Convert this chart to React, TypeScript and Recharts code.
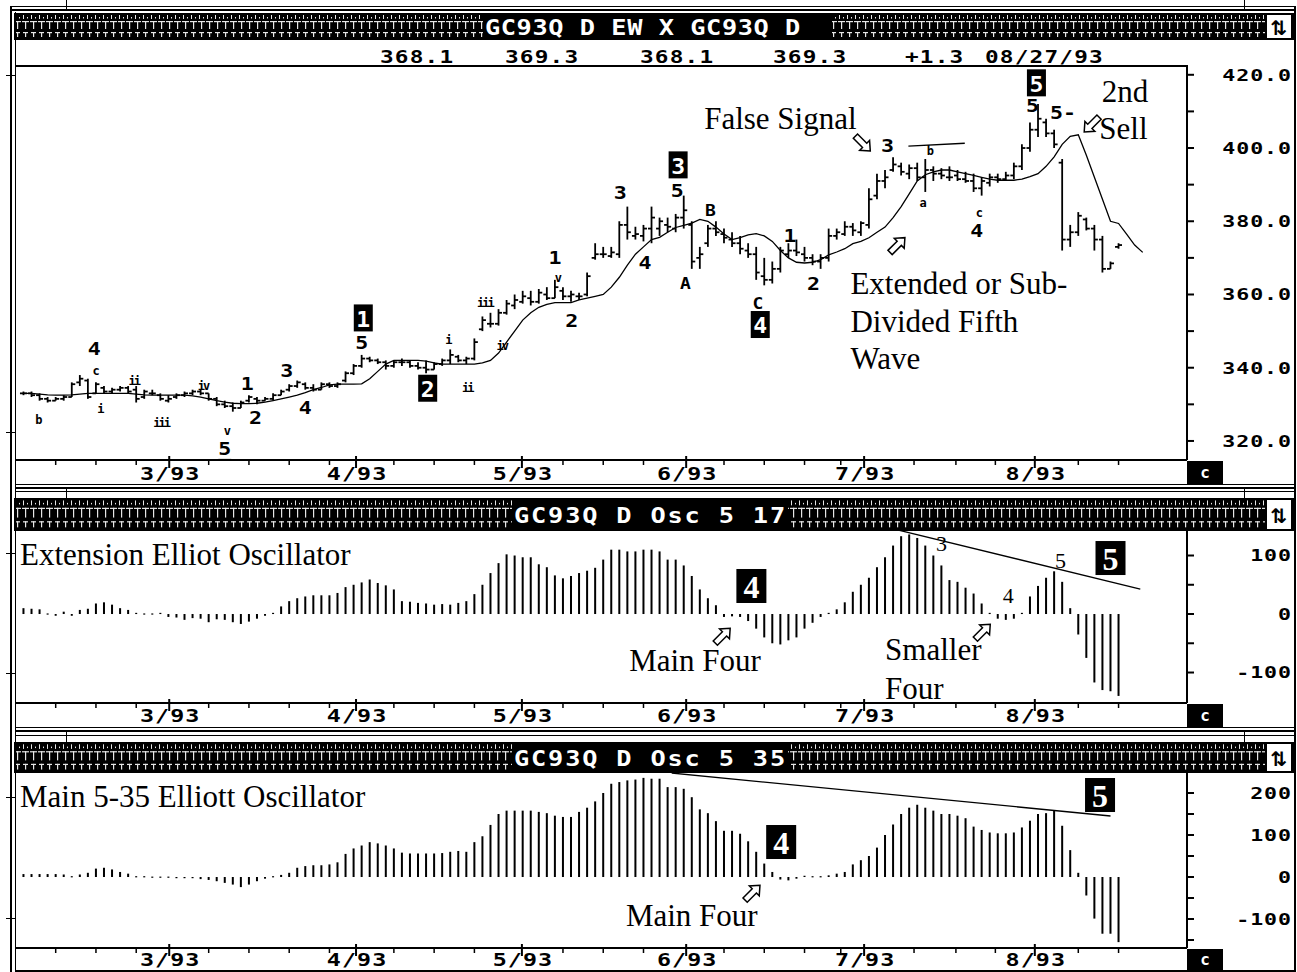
import React from 'react';
import { ComposedChart, Bar, Line, XAxis, YAxis, ReferenceDot, ReferenceLine } from 'recharts';

// ---- daily bars, GC93Q (one slot per trading day) ----
const highs = [
  333.5, 333.5, 333, 332, 332, 332.5, 336, 338, 337, 336,
  335, 334.5, 335, 335, 335, 334, 334, 333, 332.5, 333,
  333.5, 334, 334, 333, 332, 331, 330.5, 331, 332.5, 332,
  332, 333, 334, 335.5, 336.5, 336, 335.5, 336, 336, 336,
  339, 341, 343.5, 343, 342.5, 342, 342, 342.5, 342, 341.5,
  342, 341.5, 342.5, 345, 343.5, 343, 348, 354, 355, 356,
  358.5, 360, 361, 361, 361.5, 362, 364, 362, 361, 360.5,
  366, 374, 373, 373, 380, 384, 378.5, 379, 384, 381,
  381, 382, 387, 380, 373, 379, 380, 378, 377, 376,
  374, 373, 370, 369, 373, 374, 375, 373, 371, 371,
  378, 378, 380, 379.5, 380, 389, 393, 394, 397.5, 396,
  395.5, 396, 397, 395, 394.5, 395, 394, 393.5, 393, 392,
  393, 393, 393.5, 396, 401, 407, 412, 408, 405, 397,
  379, 382.5, 381, 379, 376, 369, 374,
];
const lows = [
  332.5, 332, 331, 330.5, 331, 331, 332, 335, 331.5, 333,
  333, 333, 333.5, 333, 330.5, 331.5, 332.5, 331, 330.5, 331.5,
  332, 332.5, 332.5, 331, 329.5, 329, 328, 329, 330.5, 330,
  331, 331, 332.5, 333.5, 334.5, 334, 333.5, 334, 334.5, 334.5,
  336, 338, 340, 341.5, 341, 339.5, 340, 340.5, 340, 339.5,
  338.5, 339.5, 340.5, 341, 341.5, 341, 342, 350, 351, 351.5,
  354.5, 356, 357.5, 357, 357.5, 358.5, 359, 358.5, 358, 358.5,
  359.5, 369.5, 370, 370, 370, 375, 375, 374.5, 374, 376,
  377, 377, 378, 367, 367, 373, 376, 374, 373, 371,
  370, 364, 362.5, 363, 366, 370, 370.5, 369, 368, 367,
  369, 375, 376, 376, 376, 378, 386, 389, 393.5, 392.5,
  391.5, 391, 388, 391, 391.5, 391, 391, 390.5, 388, 387,
  389.5, 390.5, 391, 391.5, 394, 399, 403, 403, 400, 372,
  373, 376, 377.5, 372, 366, 367, 372.5,
];
const opens = [
  333, 333, 332.5, 331.5, 331, 331.5, 332, 336, 336.5, 333,
  334.5, 333.5, 334, 334.5, 334, 332, 333, 332.5, 331, 332,
  332.5, 333, 333.5, 333, 331.5, 330, 329.5, 329, 331, 331.5,
  331, 331.5, 332.5, 334, 335, 335.5, 334.5, 334, 335.5, 335,
  336.5, 338.5, 340.5, 342.5, 342, 341.5, 340.5, 341.5, 341.5, 340.5,
  340, 339.5, 341, 342, 343, 342, 342.5, 350.5, 352, 352,
  355, 357, 358, 359, 358, 360, 359, 361, 359.5, 359.5,
  360, 370, 371, 370.5, 371, 379, 376, 376, 378, 378,
  379, 378, 381, 379, 370, 374, 378, 376.5, 375, 374,
  372, 371, 365, 364, 367, 371, 372, 371, 370, 369,
  370, 376, 376.5, 378.5, 377, 379, 387, 391, 394, 395,
  393, 394.5, 392, 394, 393, 392, 392.5, 391.5, 391, 389,
  390.5, 392, 391.5, 392.5, 395, 400, 405, 407, 404, 396,
  375, 377, 380.5, 378, 375, 367, 373,
];
const closes = [
  333, 332.5, 331.5, 331, 331.5, 332, 335.5, 337, 332, 335.5,
  333.5, 334, 334.5, 333.5, 331.5, 333.5, 333, 331.5, 331.5, 332.5,
  333, 333.5, 333, 331.5, 330, 329.5, 329, 330.5, 332, 331,
  331.5, 332.5, 333.5, 335, 336, 334.5, 334, 335.5, 335, 335.5,
  338.5, 340.5, 342.5, 342, 341.5, 340.5, 341.5, 341.5, 340.5, 340,
  339.5, 341, 342, 343.5, 342, 342.5, 347, 353, 352, 355,
  357.5, 358.5, 359.5, 358, 360.5, 359, 362, 359.5, 360, 359.5,
  365, 371, 371, 371.5, 379, 377, 376.5, 378, 381, 380,
  378.5, 381, 383, 369, 371, 378, 377, 375.5, 374, 372.5,
  371, 366, 364, 367, 372, 372, 371.5, 370, 369, 370,
  376, 377, 378.5, 377.5, 379.5, 386, 391, 392, 395.5, 393.5,
  394.5, 392, 394, 393, 392.5, 392, 391.5, 391, 389, 391,
  392, 391.5, 392.5, 395, 400, 405, 408, 404, 401, 375,
  377, 381.5, 378, 375, 367, 368.5, 373.5,
];
// displaced moving average, runs a few slots past the last bar
const maValues = [
  333, 333, 332.8, 332.6, 332.5, 332.5, 332.6, 332.8, 333, 333,
  333, 333, 333, 333, 332.8, 332.6, 332.5, 332.5, 332.5, 332.5,
  332.5, 332.3, 332, 331.5, 331, 330.6, 330.3, 330.2, 330.2, 330.3,
  330.6, 331, 331.5, 332, 332.5, 333.2, 334, 334.6, 335.3, 335.5,
  335.5, 335.5, 335.6, 337, 339, 341, 342, 342, 342, 342,
  341.8, 341.3, 341, 341, 341, 341, 341, 341.3, 342, 344,
  347, 350, 353, 355, 356.5, 357.3, 357.8, 357.8, 357.8, 358.5,
  359, 359.5, 360, 362, 364.7, 368, 371, 373, 375, 375.6,
  377, 378.3, 378.9, 379.5, 380.5, 380, 378.4, 376.5, 375, 375.5,
  376.3, 376.6, 376, 374.5, 372, 370, 368.8, 368.6, 368.8, 369.5,
  370.8, 371.6, 372.5, 373.9, 374.5, 375.5, 377, 378.4, 381, 384,
  387.5, 391, 392.7, 393.5, 394, 394, 393.5, 393, 392.5, 392,
  391.5, 391.2, 391.2, 391.2, 391.5, 392.2, 393, 395, 397.6, 401,
  403.2, 403.6, 398, 392, 386, 380, 379.4, 376.5, 373.5, 371.5,
];
// Osc 5 17
const osc517 = [
  10, 9, 8, 1, -3, 4, -3, 7, 9, 18,
  20, 16, 10, 7, 2, 1, 1, 2, -5, -6,
  -10, -7, -8, -14, -9, -10, -14, -17, -13, -8,
  -3, 2, 13, 22, 27, 30, 32, 32, 32, 36,
  46, 50, 54, 59, 53, 49, 42, 22, 21, 19,
  18, 16, 17, 16, 19, 22, 34, 50, 70, 87,
  102, 100, 97, 97, 85, 80, 66, 61, 65, 70,
  74, 79, 93, 110, 110, 107, 107, 110, 110, 107,
  93, 93, 83, 65, 42, 27, 15, -5, -4, -5,
  -12, -25, -40, -50, -52, -45, -40, -25, -15, -5,
  2, 8, 20, 38, 50, 62, 80, 97, 117, 133,
  136, 130, 117, 100, 83, 58, 55, 45, 35, 18,
  2, -8, -10, -8, 2, 30, 48, 62, 73, 55,
  10, -35, -75, -117, -130, -132, -140,
];
// Osc 5 35
const osc535 = [
  7, 7, 7, 7, 7, 6, 2, 6, 10, 20,
  22, 18, 12, 8, 2, 2, 1, 1, 1, 0,
  -1, -2, -5, -7, -10, -14, -18, -24, -18, -10,
  -4, 2, 5, 10, 22, 26, 28, 28, 30, 35,
  55, 68, 75, 83, 80, 75, 68, 58, 56, 56,
  56, 56, 57, 60, 62, 60, 83, 97, 124, 150,
  158, 158, 158, 158, 155, 152, 146, 143, 143, 155,
  165, 180, 200, 222, 226, 230, 232, 236, 234, 234,
  214, 214, 210, 190, 161, 152, 133, 110, 110, 103,
  85, 60, 32, 12, -6, -8, -4, 3, 2, 2,
  4, 8, 12, 30, 40, 50, 70, 100, 125, 150,
  165, 172, 165, 158, 150, 150, 146, 140, 120, 112,
  106, 104, 104, 106, 118, 134, 150, 152, 158, 122,
  64, 10, -44, -99, -135, -135, -155,
];

const monthTicks = [18.1, 41.3, 61.9, 82.3, 104.4, 125.6];
const monthLabels = ['3/93', '4/93', '5/93', '6/93', '7/93', '8/93'];
const weekTicks = [4, 9, 14, 23, 28, 33, 38, 46, 51, 56, 67, 72, 77, 87, 92, 97, 101.5, 110.6, 115.8, 120.7, 131, 136];
const quoteFields = ['368.1', '369.3', '368.1', '369.3', '+1.3', '08/27/93'];
const quoteX = [380, 505, 640, 773, 905, 985];

const priceTicks = [320, 330, 340, 350, 360, 370, 380, 390, 400, 410, 420];
const priceLabels = [320, 340, 360, 380, 400, 420];
const osc517Ticks = [-100, -50, 0, 50, 100];
const osc517Labels = [-100, 0, 100];
const osc535Ticks = [-150, -100, -50, 0, 50, 100, 150, 200];
const osc535Labels = [-100, 0, 100, 200];

// annotations: [slot, value, text, kind, angle]
type Note = [number, number, string, string, number?];
const priceNotes: Note[] = [
  [8.8, 345.0, '4', 'n'], [8.9, 339.0, 'c', 's'], [1.8, 325.6, 'b', 's'], [9.5, 328.6, 'i', 's'],
  [13.7, 336.3, 'ii', 's'], [17.1, 324.8, 'iii', 's'], [22.3, 334.9, 'iv', 's'],
  [27.8, 335.5, '1', 'n'], [28.8, 326.2, '2', 'n'], [32.7, 339.0, '3', 'n'], [35.0, 328.9, '4', 'n'],
  [25.2, 322.6, 'v', 's'], [25.0, 317.7, '5', 'u'],
  [42.2, 353.6, '1', 'b'], [42.0, 346.8, '5', 'n'], [50.2, 334.4, '2', 'b'],
  [52.7, 347.7, 'i', 's'], [55.1, 334.4, 'ii', 's'], [57.3, 357.6, 'iii', 's'], [59.4, 345.8, 'iv', 's'],
  [66.0, 369.9, '1', 'n'], [66.3, 364.4, 'v', 's'], [68.1, 352.6, '2', 'n'],
  [74.1, 387.6, '3', 'n'], [77.2, 368.5, '4', 'n'], [81.3, 395.4, '3', 'b'], [81.2, 388.3, '5', 'n'],
  [82.2, 362.8, 'A', 'a'], [85.3, 382.7, 'B', 'a'], [91.2, 357.3, 'C', 'a'], [91.5, 351.8, '4', 'b'],
  [95.2, 375.9, '1', 'n'], [98.1, 362.8, '2', 'n'],
  [108.5, 373.4, '', '>', 45], [94.0, 408.1, 'False Signal', 'T'], [104.2, 401.3, '', '>', 135],
  [107.3, 400.5, '3', 'n'], [112.5, 399.1, 'b', 's'], [111.6, 384.9, 'a', 's'],
  [118.6, 382.2, 'c', 's'], [118.4, 377.2, '4', 'n'],
  [125.8, 417.8, '5', 'b'], [125.3, 411.4, '5', 'n'], [129.1, 409.5, '5-', 'n'],
  [132.7, 406.5, '', '>', 225], [136.8, 415.5, '2nd', 'T'], [136.6, 405.4, 'Sell', 'T'],
  [102.7, 363.0, 'Extended or Sub-', 'L'], [102.7, 352.6, 'Divided Fifth', 'L'], [102.7, 342.5, 'Wave', 'L'],
];
const osc517Notes: Note[] = [
  [-0.43, 100.9, 'Extension Elliot Oscillator', 'L'],
  [90.4, 47.9, '4', 'B'], [86.8, -37.6, '', '>', 45], [83.4, -78.6, 'Main Four', 'T'],
  [114.0, 121.4, '3', 'd'], [128.8, 92.3, '5', 'd'], [135.0, 95.7, '5', 'B'], [122.3, 32.5, '4', 'd'],
  [119.1, -30.8, '', '>', 45], [107.0, -61.5, 'Smaller', 'L'], [107.0, -126.5, 'Four', 'L'],
];
const osc535Notes: Note[] = [
  [-0.43, 190.5, 'Main 5-35 Elliott Oscillator', 'L'],
  [133.7, 195.2, '5', 'B'], [94.1, 83.3, '4', 'B'], [90.5, -38.1, '', '>', 45], [83.0, -90.5, 'Main Four', 'T'],
];
const priceSegs = [[109.9, 400.5, 116.9, 401.3]];
const osc517Segs = [[108.6, 143.6, 138.7, 42.7]];
const osc535Segs = [[80.5, 247.6, 135.0, 145.2]];

const MONO = "'DejaVu Sans Mono', monospace";
const SERIF = "'Liberation Serif', 'Times New Roman', serif";
const X_DOMAIN: [number, number] = [-0.93, 144.5];
const allXTicks = [...weekTicks, ...monthTicks].sort((a, b) => a - b);

const priceRows = maValues.map((ma, i) => (i < highs.length
  ? { i, ma, hl: [lows[i], highs[i]], high: highs[i], low: lows[i], open: opens[i], close: closes[i] }
  : { i, ma }));
const rows517 = osc517.map((v, i) => ({ i, v }));
const rows535 = osc535.map((v, i) => ({ i, v }));

// wide bitmap-looking mono text: horizontally stretched DejaVu Sans Mono Bold
const Mono = ({ x, y, size, sx = 1.3, ls = 0.8, anchor = 'start', fill = '#000', central = false, deco, children }: any) => (
  <text
    transform={`translate(${x},${y}) scale(${sx},1)`}
    textAnchor={anchor}
    dominantBaseline={central ? 'central' : undefined}
    fontFamily={MONO} fontWeight="bold" fontSize={size} letterSpacing={ls} fill={fill}
    textDecoration={deco}
  >{children}</text>
);

const OhlcShape = (p: any) => {
  const d = p.payload;
  if (!d || d.high == null) return <g />;
  const top = Math.min(p.y, p.y + p.height);
  const h = Math.abs(p.height);
  const cx = p.x + p.width / 2;
  const k = d.high > d.low ? h / (d.high - d.low) : 0;
  const yo = top + (d.high - d.open) * k;
  const yc = top + (d.high - d.close) * k;
  return (
    <g stroke="#000" strokeWidth={1.8}>
      <line x1={cx} x2={cx} y1={top} y2={top + Math.max(h, 1)} />
      <line x1={cx - 3.5} x2={cx} y1={yo} y2={yo} />
      <line x1={cx} x2={cx + 3.5} y1={yc} y2={yc} />
    </g>
  );
};

const OscShape = (p: any) => {
  const cx = p.x + p.width / 2;
  const top = Math.min(p.y, p.y + p.height);
  const h = Math.max(Math.abs(p.height), 1.2);
  return <rect x={cx - 1} y={top} width={2} height={h} fill="#000" />;
};

function renderNote(n: Note, cx: number, cy: number) {
  const [, , t, k, a] = n;
  switch (k) {
    case 'n':
      return <Mono x={cx} y={cy} size={18} sx={1.2} ls={0} anchor="middle" central>{t}</Mono>;
    case 'u':
      return <Mono x={cx} y={cy} size={18} sx={1.2} ls={0} anchor="middle" central deco="underline">{t}</Mono>;
    case 'a':
      return <Mono x={cx} y={cy} size={15} sx={1.2} ls={0} anchor="middle" central>{t}</Mono>;
    case 's':
      return <Mono x={cx} y={cy} size={12} sx={1} ls={-2} anchor="middle" central>{t}</Mono>;
    case 'b':
      return (
        <g>
          <rect x={cx - 9.5} y={cy - 13.5} width={19} height={27} fill="#000" />
          <Mono x={cx} y={cy + 1} size={22} sx={1.05} ls={0} anchor="middle" central fill="#fff">{t}</Mono>
        </g>
      );
    case 'B':
      return (
        <g>
          <rect x={cx - 15} y={cy - 17} width={30} height={34} fill="#000" />
          <text x={cx} y={cy + 1} dominantBaseline="central" textAnchor="middle" fill="#fff" fontFamily={SERIF} fontWeight="bold" fontSize={32}>{t}</text>
        </g>
      );
    case 'T':
      return <text x={cx} y={cy} dominantBaseline="central" textAnchor="middle" fontFamily={SERIF} fontSize={31}>{t}</text>;
    case 'L':
      return <text x={cx} y={cy} dominantBaseline="central" textAnchor="start" fontFamily={SERIF} fontSize={31}>{t}</text>;
    case 'd':
      return <text x={cx} y={cy} dominantBaseline="central" textAnchor="middle" fontFamily={SERIF} fontSize={22}>{t}</text>;
    case '>':
      return (
        <polygon
          points="0,-11 7,-3 3,-3 3,10 -3,10 -3,-3 -7,-3"
          transform={`translate(${cx},${cy}) rotate(${a || 0})`}
          fill="#fff" stroke="#000" strokeWidth={1.5}
        />
      );
    default:
      return <g />;
  }
}

const makeXTick = (labelDy: number) => (p: any) => {
  const { x, y, payload } = p;
  const mi = monthTicks.indexOf(payload.value);
  if (mi >= 0) {
    return (
      <g>
        <line x1={x} x2={x} y1={y - 4} y2={y + 8} stroke="#000" strokeWidth={2} />
        <Mono x={x + 1} y={y + labelDy} size={18} sx={1.3} ls={0.8} anchor="middle">{monthLabels[mi]}</Mono>
      </g>
    );
  }
  return <line x1={x} x2={x} y1={y} y2={y + 5} stroke="#000" strokeWidth={1.5} />;
};

const makeYTick = (labels: number[], fmt: (v: number) => string) => (p: any) => {
  const { y, payload } = p;
  const v = payload.value;
  return (
    <g>
      <line x1={1187} x2={1194} y1={y} y2={y} stroke="#000" strokeWidth={2} />
      {labels.includes(v) && (
        <Mono x={1292} y={y} size={16} sx={1.35} ls={0.7} anchor="end" central>{fmt(v)}</Mono>
      )}
    </g>
  );
};

const axes = (bandH: number, labelDy: number, domain: [number, number], ticks: number[], labels: number[], fmt: (v: number) => string) => [
  <XAxis key="x" dataKey="i" type="number" domain={X_DOMAIN} allowDataOverflow ticks={allXTicks} interval={0}
    tickLine={false} tickSize={0} tickMargin={0} axisLine={{ stroke: '#000', strokeWidth: 2 }} height={bandH} tick={makeXTick(labelDy)} />,
  <YAxis key="y" orientation="right" type="number" domain={domain} allowDataOverflow ticks={ticks} interval={0} width={110}
    tickLine={false} tickSize={0} tickMargin={0} axisLine={{ stroke: '#000', strokeWidth: 2 }} tick={makeYTick(labels, fmt)} />,
];

const notesOf = (notes: Note[], tag: string) => notes.map((n, idx) => (
  <ReferenceDot key={tag + idx} x={n[0]} y={n[1]} r={1} ifOverflow="visible" fill="none" stroke="none"
    shape={(p: any) => renderNote(n, p.cx, p.cy)} />
));

const segsOf = (segs: number[][], tag: string) => segs.map((s, idx) => (
  <ReferenceLine key={tag + idx} ifOverflow="visible" stroke="#000" strokeWidth={1.3}
    segment={[{ x: s[0], y: s[1] }, { x: s[2], y: s[3] }]} />
));

const hatchPattern = (id: string, h: number) => {
  const s = h / 27;
  return (
    <pattern id={id} width={8} height={h} patternUnits="userSpaceOnUse">
      <rect x={1} y={2 * s} width={1} height={4 * s} fill="#e6e6e6" />
      <rect x={5} y={4 * s} width={1} height={1.5} fill="#e6e6e6" />
      <rect x={0} y={8 * s} width={7} height={1.2} fill="#e6e6e6" />
      <rect x={3} y={8 * s} width={1.2} height={8 * s} fill="#e6e6e6" />
      <rect x={1} y={19 * s} width={5} height={1.2} fill="#e6e6e6" />
      <rect x={3} y={19 * s} width={1.2} height={5 * s} fill="#e6e6e6" />
    </pattern>
  );
};

const TitleBar = ({ top, h, text, textX, textEnd, id, ls }: any) => (
  <svg width={1281} height={h} style={{ position: 'absolute', left: 14, top }}>
    <defs>{hatchPattern(id, h)}</defs>
    <rect width={1281} height={h} fill="#000" />
    <rect x={1} y={0} width={textX - 14 - 3} height={h} fill={`url(#${id})`} />
    <rect x={textEnd - 14 + 2} y={0} width={1251 - (textEnd - 14 + 2)} height={h} fill={`url(#${id})`} />
    <Mono x={textX - 14} y={h / 2 + 1} size={22} sx={1.15} ls={ls} central fill="#fff">{text}</Mono>
    <rect x={1253} y={2} width={24} height={h - 4} fill="#fff" />
    <text x={1265} y={h / 2 + 1} dominantBaseline="central" textAnchor="middle" fill="#000" fontFamily="'DejaVu Sans', sans-serif" fontWeight="bold" fontSize={20}>⇅</text>
  </svg>
);

const H = ({ x, y, w, t = 1 }: any) => <div style={{ position: 'absolute', left: x, top: y, width: w, height: t, background: '#000' }} />;
const V = ({ x, y, h, t = 1 }: any) => <div style={{ position: 'absolute', left: x, top: y, width: t, height: h, background: '#000' }} />;
const CBox = ({ top, h }: any) => (
  <div style={{ position: 'absolute', left: 1187, top, width: 36, height: h, background: '#000', color: '#fff', fontFamily: MONO, fontWeight: 'bold', fontSize: 16, lineHeight: `${h}px`, textAlign: 'center' }}>c</div>
);

export default function App() {
  return (
    <div style={{ position: 'absolute', left: 0, top: 0, width: 1297, height: 972, background: '#fff', overflow: 'hidden' }}>
      {/* price panel */}
      <div style={{ position: 'absolute', left: 0, top: 66 }}>
        <ComposedChart width={1297} height={419} data={priceRows} margin={{ top: 0, right: 0, bottom: 0, left: 16 }}>
          {axes(25, 20, [314.8, 422.4], priceTicks, priceLabels, (v) => v.toFixed(1))}
          <Bar dataKey="hl" barSize={2} shape={OhlcShape} isAnimationActive={false} />
          <Line dataKey="ma" type="linear" stroke="#000" strokeWidth={1.3} dot={false} isAnimationActive={false} connectNulls />
          {segsOf(priceSegs, 'ps')}
          {notesOf(priceNotes, 'pn')}
        </ComposedChart>
      </div>
      {/* Osc 5 17 */}
      <div style={{ position: 'absolute', left: 0, top: 531 }}>
        <ComposedChart width={1297} height={196} data={rows517} margin={{ top: 0, right: 0, bottom: 0, left: 16 }}>
          {axes(24, 19, [-152.1, 141.9], osc517Ticks, osc517Labels, (v) => String(v))}
          <Bar dataKey="v" barSize={2} shape={OscShape} isAnimationActive={false} />
          {segsOf(osc517Segs, 'as')}
          {notesOf(osc517Notes, 'an')}
        </ComposedChart>
      </div>
      {/* Osc 5 35 */}
      <div style={{ position: 'absolute', left: 0, top: 773 }}>
        <ComposedChart width={1297} height={201} data={rows535} margin={{ top: 0, right: 0, bottom: 4, left: 16 }}>
          {axes(22, 18, [-169, 247.6], osc535Ticks, osc535Labels, (v) => String(v))}
          <Bar dataKey="v" barSize={2} shape={OscShape} isAnimationActive={false} />
          {segsOf(osc535Segs, 'bs')}
          {notesOf(osc535Notes, 'bn')}
        </ComposedChart>
      </div>

      {/* title bars */}
      <TitleBar top={13} h={27} id="hp1" text="GC93Q D  EW X GC93Q D" textX={485} textEnd={830} ls={0.5} />
      <TitleBar top={498} h={33} id="hp2" text="GC93Q D Osc 5 17" textX={514} textEnd={786} ls={1.6} />
      <TitleBar top={742} h={31} id="hp3" text="GC93Q D Osc 5 35" textX={514} textEnd={786} ls={1.6} />

      {/* quote line */}
      <svg width={1297} height={28} style={{ position: 'absolute', left: 0, top: 40 }}>
        {quoteFields.map((q, i) => (
          <Mono key={i} x={quoteX[i]} y={23} size={17.5} sx={1.3} ls={0.9}>{q}</Mono>
        ))}
      </svg>

      {/* frame */}
      <H x={12} y={6} w={1284} />
      <H x={12} y={9} w={1284} t={2} />
      <V x={66} y={0} h={10} />
      <V x={1244} y={0} h={10} />
      <V x={10} y={6} h={966} t={2} />
      <V x={15} y={12} h={960} />
      <V x={1294} y={6} h={966} t={2} />
      <H x={15} y={65} w={1173} t={2} />

      <H x={15} y={484} w={1280} />
      <H x={15} y={487} w={1280} t={2} />
      <H x={15} y={491} w={1280} />
      <V x={66} y={487} h={11} />
      <V x={1244} y={487} h={11} />
      <CBox top={461} h={23} />

      <H x={15} y={727} w={1280} />
      <H x={15} y={730} w={1280} t={2} />
      <H x={15} y={735} w={1280} />
      <V x={66} y={730} h={12} />
      <V x={1244} y={730} h={12} />
      <CBox top={704} h={23} />

      <H x={15} y={970} w={1280} t={2} />
      <CBox top={949} h={21} />

      {/* left frame marks */}
      <H x={6} y={75} w={9} />
      <H x={6} y={432} w={9} />
      <H x={6} y={553} w={9} />
      <H x={6} y={673} w={9} />
      <H x={6} y={797} w={9} />
      <H x={6} y={918} w={9} />
    </div>
  );
}
